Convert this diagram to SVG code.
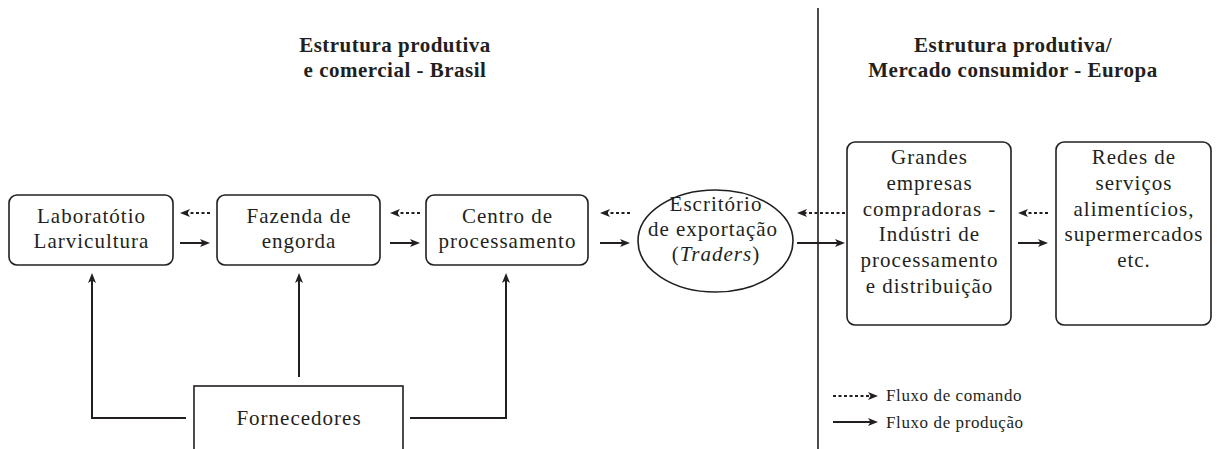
<svg xmlns="http://www.w3.org/2000/svg" width="1217" height="449" viewBox="0 0 1217 449">
<defs>
<marker id="ah" viewBox="0 0 10 8" refX="3" refY="4" markerWidth="10" markerHeight="8" markerUnits="userSpaceOnUse" orient="auto">
<path d="M0,0 L10,4 L0,8 L2.5,4 z" fill="#231f20"/>
</marker>
<style>
.box{fill:#fff;stroke:#231f20;stroke-width:1.6}
.t{font-family:"Liberation Serif","Times New Roman",serif;font-size:21px;fill:#231f20;text-anchor:middle;letter-spacing:1px}
.h{font-family:"Liberation Serif","Times New Roman",serif;font-size:21px;font-weight:bold;fill:#231f20;text-anchor:middle;letter-spacing:0.5px}
.lg{font-family:"Liberation Serif","Times New Roman",serif;font-size:17px;fill:#231f20;letter-spacing:0.6px}
.sol{fill:none;stroke:#231f20;stroke-width:2;marker-end:url(#ah)}
.dash{fill:none;stroke:#231f20;stroke-width:1.8;stroke-dasharray:3 2.5;marker-end:url(#ah)}
.ln{fill:none;stroke:#231f20;stroke-width:2}
</style>
</defs>
<rect width="1217" height="449" fill="#fff"/>

<g id="titles">
<text class="h" x="395" y="52">Estrutura produtiva</text>
<text class="h" x="395" y="77">e comercial - Brasil</text>
<text class="h" x="1013" y="52">Estrutura produtiva/</text>
<text class="h" x="1013" y="77">Mercado consumidor - Europa</text>
</g>

<g id="divider">
<line x1="818" y1="8" x2="818" y2="449" stroke="#231f20" stroke-width="1.6"/>
</g>

<g id="n-lab">
<rect class="box" x="9" y="195" width="164" height="70" rx="8"/>
<text class="t" x="91.5" y="223">Laboratótio</text>
<text class="t" x="91.5" y="248">Larvicultura</text>
</g>

<g id="n-fazenda">
<rect class="box" x="217" y="195" width="163" height="70" rx="8"/>
<text class="t" x="299" y="223">Fazenda de</text>
<text class="t" x="299" y="248">engorda</text>
</g>

<g id="n-centro">
<rect class="box" x="426" y="195" width="162" height="70" rx="8"/>
<text class="t" x="507.5" y="223">Centro de</text>
<text class="t" x="507.5" y="248">processamento</text>
</g>

<g id="n-escritorio">
<ellipse class="box" cx="715.5" cy="241" rx="77.5" ry="51"/>
<text class="t" x="716" y="211">Escritório</text>
<text class="t" x="713" y="236">de exportação</text>
<text class="t" x="716" y="261">(<tspan font-style="italic">Traders</tspan>)</text>
</g>

<g id="n-grandes">
<rect class="box" x="847" y="142" width="164" height="183" rx="8"/>
<text class="t" x="929.5" y="164">Grandes</text>
<text class="t" x="929.5" y="190">empresas</text>
<text class="t" x="929.5" y="216">compradoras -</text>
<text class="t" x="929.5" y="241">Indústri de</text>
<text class="t" x="929.5" y="267">processamento</text>
<text class="t" x="929.5" y="293">e distribuição</text>
</g>

<g id="n-redes">
<rect class="box" x="1056" y="142" width="155" height="183" rx="8"/>
<text class="t" x="1134" y="164">Redes de</text>
<text class="t" x="1134" y="190">serviços</text>
<text class="t" x="1134" y="216">alimentícios,</text>
<text class="t" x="1134" y="241">supermercados</text>
<text class="t" x="1134" y="267">etc.</text>
</g>

<g id="n-fornecedores">
<rect class="box" x="194" y="386" width="209" height="90"/>
<text class="t" x="299" y="425">Fornecedores</text>
</g>

<g id="connectors">
<line class="dash" x1="210" y1="213" x2="187" y2="213"/>
<line class="sol" x1="180" y1="243" x2="203" y2="243"/>
<line class="dash" x1="420" y1="213" x2="397" y2="213"/>
<line class="sol" x1="390" y1="243" x2="413" y2="243"/>
<line class="dash" x1="630" y1="213" x2="607" y2="213"/>
<line class="sol" x1="600" y1="243" x2="623" y2="243"/>
<line class="dash" x1="845" y1="213" x2="804" y2="213"/>
<line class="sol" x1="797" y1="243" x2="838" y2="243"/>
<line class="dash" x1="1048" y1="213" x2="1025" y2="213"/>
<line class="sol" x1="1018" y1="243" x2="1041" y2="243"/>
<path class="sol" d="M186,418 H92 V280"/>
<line class="sol" x1="299" y1="377" x2="299" y2="280"/>
<path class="sol" d="M410,418 H506 V280"/>
</g>

<g id="legend">
<line class="dash" x1="833" y1="396" x2="871" y2="396"/>
<line class="sol" x1="833" y1="422" x2="871" y2="422"/>
<text class="lg" x="886" y="401">Fluxo de comando</text>
<text class="lg" x="886" y="428">Fluxo de produção</text>
</g>
</svg>
